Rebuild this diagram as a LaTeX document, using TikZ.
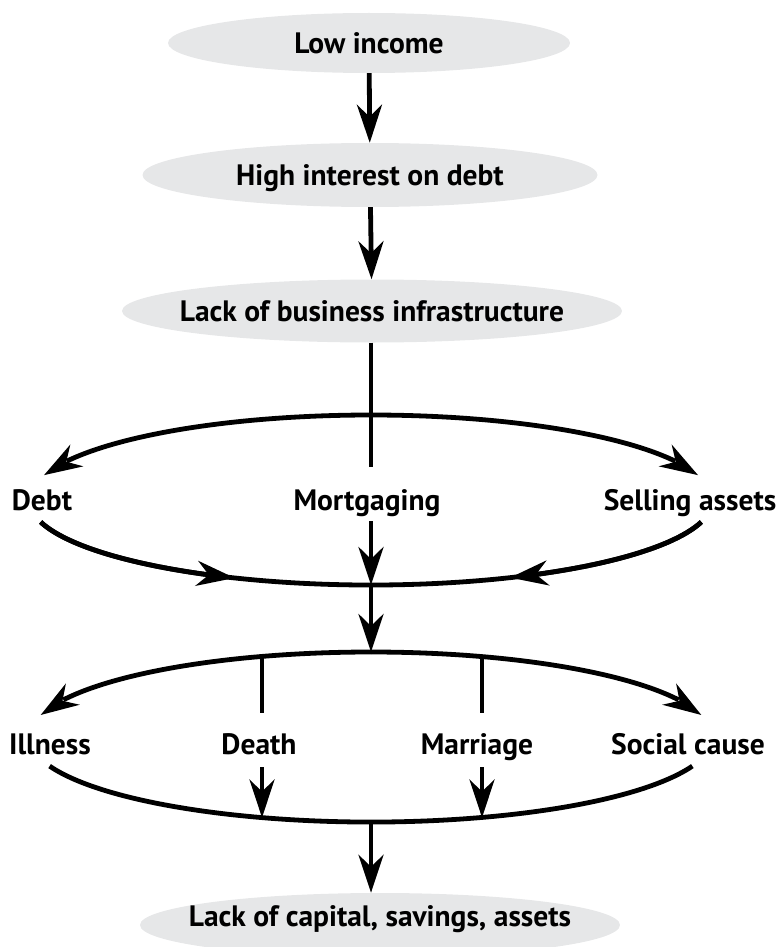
\documentclass[tikz,border=0pt]{standalone}
\usepackage{fontspec}
\setmainfont{PT Sans}
\usetikzlibrary{arrows.meta,shapes.geometric,bending}
\definecolor{ellgray}{RGB}{230,231,232}
\begin{document}
\begin{tikzpicture}[x=1pt,y=-1pt,
  txt/.style={font=\fontsize{29.5}{32}\selectfont\bfseries, text height=20.5pt, text depth=0pt, inner sep=0pt},
  oval/.style={txt, ellipse, fill=ellgray, inner xsep=-220pt, inner ysep=-10pt},
  conn/.style={line width=4.8pt},
  arr/.style={conn, -{Stealth[length=38pt,width=25pt,inset=12pt]}},
  loop/.style={x radius=342, y radius=85}]
\useasboundingbox (0,0) rectangle (778,947);

% ovals
\node[oval, minimum width=402pt, minimum height=60pt] (e1) at (369,43) {Low income};
\node[oval, minimum width=455pt, minimum height=64pt] (e2) at (370,175) {High interest on debt};
\node[oval, minimum width=500pt, minimum height=63pt] (e3) at (372,311) {Lack of business infrastructure};
\node[oval, minimum width=480pt, minimum height=64pt, text depth=18pt] (e4) at (380,925) {Lack of capital, savings, assets};

% first loop labels
\node[txt] (debt) at (42,500) {Debt};
\node[txt] (mort) at (367,500) {Mortgaging};
\node[txt] (sell) at (690,500) {Selling assets};

% second loop labels
\node[txt] (ill) at (50,744) {Illness};
\node[txt] (death) at (259,744) {Death};
\node[txt] (marr) at (477,744) {Marriage};
\node[txt] (soc) at (688,744) {Social cause};

% coordinates, loop 1 (centre 371,500)
\coordinate (m1apex) at (371,415);
\coordinate (mortN) at (371,467);
\coordinate (mortS) at (371,521);
\coordinate (m1bl) at (40.65,522);
\coordinate (m1br) at (701.35,522);
\coordinate (m1bot) at (371,585);

% coordinates, loop 2 (centre 371,737)
\coordinate (m2apex) at (371,652);
\coordinate (m2bl) at (49.6,766.1);
\coordinate (m2br) at (692.4,766.1);
\coordinate (m2bot) at (371,822);
\coordinate (dtop) at (262,656.4);
\coordinate (dN) at (262,713);
\coordinate (dS) at (262,767);
\coordinate (dbot) at (262,817.6);
\coordinate (mtop) at (482,656.4);
\coordinate (mN) at (482,713);
\coordinate (mS) at (482,767);
\coordinate (mbot) at (482,817.6);

% main chain
\draw[arr] (e1) -- (e2);
\draw[arr] (e2) -- (e3);
\draw[conn] (e3.south -| mortN) -- (mortN);

% loop 1
\draw[arr] (m1apex) arc[start angle=-90, end angle=-163, loop];
\draw[arr] (m1apex) arc[start angle=-90, end angle=-17, loop];
\draw[conn] (m1bl) arc[start angle=165, end angle=15, loop];
\draw[arr] (m1bl) arc[start angle=165, end angle=113.5, loop];
\draw[arr] (m1br) arc[start angle=15, end angle=66, loop];
\draw[arr] (mortS) -- (m1bot);

\draw[arr] (m1bot) -- (m2apex);

% loop 2
\draw[arr] (m2apex) arc[start angle=-90, end angle=-165, loop];
\draw[arr] (m2apex) arc[start angle=-90, end angle=-15, loop];
\draw[conn] (m2bl) arc[start angle=160, end angle=20, loop];
\draw[conn] (dtop) -- (dN);
\draw[conn] (mtop) -- (mN);
\draw[arr] (dS) -- (dbot);
\draw[arr] (mS) -- (mbot);

\draw[arr] (m2bot) -- (m2bot |- e4.north);
\end{tikzpicture}
\end{document}
